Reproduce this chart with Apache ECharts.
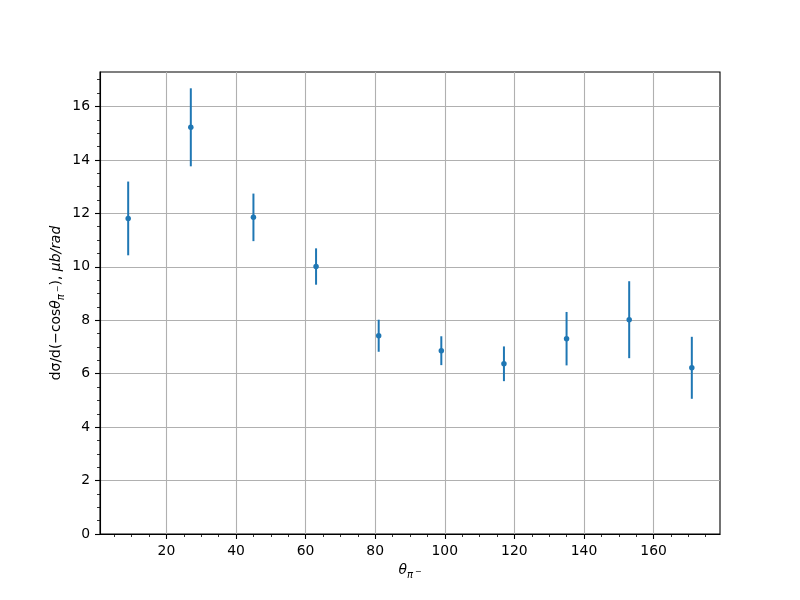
<!DOCTYPE html>
<html>
<head>
<meta charset="utf-8">
<script src="https://cdn.jsdelivr.net/npm/echarts@6/dist/echarts.min.js"></script>
<style>html,body{margin:0;padding:0;background:#fff;}#c{width:800px;height:600px;}</style>
</head>
<body>
<div id="c"></div>
<script>
var theta = [9, 27, 45, 63, 81, 99, 117, 135, 153, 171];
var values = [11.81, 15.22, 11.85, 10.01, 7.42, 6.86, 6.37, 7.31, 8.02, 6.22];
var errors = [1.38, 1.46, 0.89, 0.68, 0.60, 0.54, 0.65, 1.00, 1.44, 1.16];
var xTickLabels = [20, 40, 60, 80, 100, 120, 140, 160];
var xMinorTicks = [5, 10, 15, 25, 30, 35, 45, 50, 55, 65, 70, 75, 85, 90, 95, 105, 110, 115, 125, 130, 135, 145, 150, 155, 165, 170, 175];
var yTickLabels = [0, 2, 4, 6, 8, 10, 12, 14, 16];
var yMinorTicks = [0.5, 1, 1.5, 2.5, 3, 3.5, 4.5, 5, 5.5, 6.5, 7, 7.5, 8.5, 9, 9.5, 10.5, 11, 11.5, 12.5, 13, 13.5, 14.5, 15, 15.5, 16.5, 17];

var blue = '#1f77b4';
var font = 'DejaVu Sans';
var fs = 13.9;

var pts = theta.map(function (t, i) { return [t, values[i]]; });
var errData = theta.map(function (t, i) { return [t, values[i], errors[i]]; });

var xMin = 0.9, xMax = 179.1, yMin = 0, yMax = 17.29;

var rich = {
  n: { fontFamily: font, fontSize: fs, color: '#000', lineHeight: 20, verticalAlign: 'middle' },
  i: { fontFamily: font, fontSize: fs, fontStyle: 'italic', color: '#000', lineHeight: 20, verticalAlign: 'middle' },
  s: { fontFamily: font, fontSize: 10, fontStyle: 'italic', color: '#000', lineHeight: 10, verticalAlign: 'bottom' },
  p: { fontFamily: font, fontSize: 8, color: '#000', lineHeight: 12, verticalAlign: 'middle', padding: [3, 0, 0, 2] }
};

var chart = echarts.init(document.getElementById('c'), null, { renderer: 'canvas' });
chart.setOption({
  animation: false,
  backgroundColor: '#fff',
  grid: { left: 100, right: 80, top: 72, bottom: 66, show: true, borderColor: '#000', borderWidth: 1.1, backgroundColor: 'transparent' },
  xAxis: [{
    type: 'value', min: xMin, max: xMax,
    name: '{i|θ}{s|π}{p|−}', nameLocation: 'middle', nameGap: 26, nameMoveOverlap: false,
    nameTextStyle: { rich: rich },
    axisLine: { show: true, onZero: false, lineStyle: { color: '#000', width: 1.1 } },
    axisTick: { show: true, length: 5, customValues: xTickLabels, lineStyle: { color: '#000', width: 1.1 } },
    axisLabel: { show: true, customValues: xTickLabels, margin: 10, fontFamily: font, fontSize: fs, color: '#000' },
    splitLine: { show: true, lineStyle: { color: '#b0b0b0', width: 1.1 } }
  }, {
    type: 'value', min: xMin, max: xMax, position: 'bottom',
    axisLine: { show: false },
    axisTick: { show: true, length: 3, customValues: xMinorTicks, lineStyle: { color: '#000', width: 0.8 } },
    axisLabel: { show: false },
    splitLine: { show: false }
  }],
  yAxis: [{
    type: 'value', min: yMin, max: yMax,
    name: '{n|dσ/d(−cos}{i|θ}{s|π}{p|−}{n|), }{i|μb/rad}', nameLocation: 'middle', nameGap: 34, nameRotate: 90, nameMoveOverlap: false,
    nameTextStyle: { rich: rich },
    axisLine: { show: true, onZero: false, lineStyle: { color: '#000', width: 1.1 } },
    axisTick: { show: true, length: 5, customValues: yTickLabels, lineStyle: { color: '#000', width: 1.1 } },
    axisLabel: { show: true, customValues: yTickLabels, margin: 10, fontFamily: font, fontSize: fs, color: '#000' },
    splitLine: { show: true, lineStyle: { color: '#b0b0b0', width: 1.1 } }
  }, {
    type: 'value', min: yMin, max: yMax, position: 'left',
    axisLine: { show: false },
    axisTick: { show: true, length: 3, customValues: yMinorTicks, lineStyle: { color: '#000', width: 0.8 } },
    axisLabel: { show: false },
    splitLine: { show: false }
  }],
  series: [{
    type: 'custom',
    xAxisIndex: 0, yAxisIndex: 0,
    data: errData,
    encode: { x: 0, y: 1 },
    renderItem: function (params, api) {
      var x = api.value(0), y = api.value(1), e = api.value(2);
      var p1 = api.coord([x, y - e]);
      var p2 = api.coord([x, y + e]);
      return {
        type: 'line',
        shape: { x1: p1[0], y1: p1[1], x2: p2[0], y2: p2[1] },
        style: { stroke: blue, lineWidth: 2 }
      };
    },
    z: 2
  }, {
    type: 'scatter',
    xAxisIndex: 0, yAxisIndex: 0,
    data: pts,
    symbol: 'circle',
    symbolSize: 5.5,
    itemStyle: { color: blue, opacity: 1 },
    z: 3
  }]
});
</script>
</body>
</html>
